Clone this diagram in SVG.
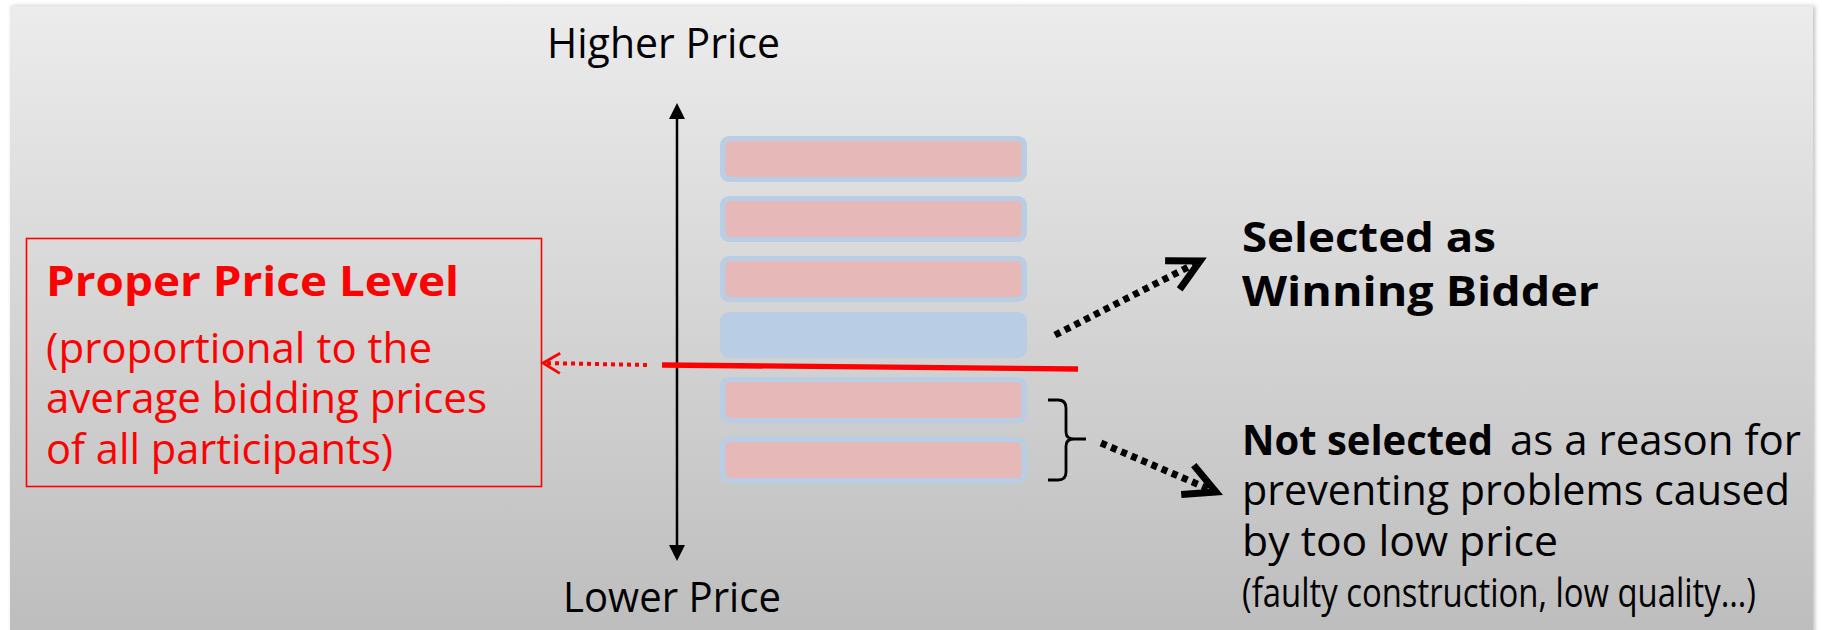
<svg xmlns="http://www.w3.org/2000/svg" width="1822" height="630" viewBox="0 0 1822 630">
  <defs>
    <linearGradient id="panelGrad" x1="0" y1="0" x2="0" y2="1">
      <stop offset="0" stop-color="#ececec"/>
      <stop offset="1" stop-color="#bdbdbd"/>
    </linearGradient>
    <filter id="shadow" x="-5%" y="-5%" width="110%" height="110%">
      <feDropShadow dx="2" dy="0" stdDeviation="2" flood-color="#000" flood-opacity="0.25"/>
    </filter>
    <marker id="chevBlack" markerUnits="userSpaceOnUse" markerWidth="60" markerHeight="60" refX="0" refY="0" viewBox="-45 -30 55 60" orient="auto">
      <path d="M -31 -16 L 0 0 L -31 16" fill="none" stroke="#000" stroke-width="7" stroke-dasharray="none" stroke-linecap="butt" stroke-linejoin="miter"/>
    </marker>
    <marker id="chevRed" markerUnits="userSpaceOnUse" markerWidth="40" markerHeight="40" refX="0" refY="0" viewBox="-25 -20 30 40" orient="auto">
      <path d="M -17 -10 L 0 0 L -17 10" fill="none" stroke="#ff0000" stroke-width="2.8" stroke-dasharray="none"/>
    </marker>
    <style>
      .t { font-family: "Open Sans", "Noto Sans", "Liberation Sans", sans-serif; font-size: 42px; }
      .b { font-weight: bold; }
      .red { fill: #ff0000; }
      .blk { fill: #000; }
      .barOuter { fill: #b9cde5; }
      .barInner { fill: #e6b8b7; }
      .dotArrow { fill: none; stroke: #000; stroke-width: 7; stroke-dasharray: 6 5; }
    </style>
  </defs>

  <rect x="0" y="0" width="1822" height="630" fill="#ffffff"/>
  <rect id="panel" x="10" y="6" width="1803" height="630" fill="url(#panelGrad)" filter="url(#shadow)"/>

  <g id="axis">
    <line x1="677" y1="545" x2="677" y2="118" stroke="#000" stroke-width="2.5"/>
    <path d="M 677 103 L 669 119 L 685 119 Z" fill="#000"/>
    <path d="M 677 561 L 669 545 L 685 545 Z" fill="#000"/>
  </g>

  <g id="label-higher">
    <text class="t blk" x="547" y="58" textLength="233" lengthAdjust="spacingAndGlyphs">Higher Price</text>
  </g>
  <g id="label-lower">
    <text class="t blk" x="563" y="612" textLength="218" lengthAdjust="spacingAndGlyphs">Lower Price</text>
  </g>

  <g id="bid-1">
    <rect class="barOuter" x="720" y="136" width="307" height="46" rx="9"/>
    <rect class="barInner" x="725.5" y="141" width="296" height="36" rx="5"/>
  </g>
  <g id="bid-2">
    <rect class="barOuter" x="720" y="196" width="307" height="46" rx="9"/>
    <rect class="barInner" x="725.5" y="201" width="296" height="36" rx="5"/>
  </g>
  <g id="bid-3">
    <rect class="barOuter" x="720" y="256" width="307" height="46" rx="9"/>
    <rect class="barInner" x="725.5" y="261" width="296" height="36" rx="5"/>
  </g>
  <g id="bid-winner">
    <rect class="barOuter" x="720" y="312" width="307" height="46" rx="9"/>
  </g>
  <g id="bid-5">
    <rect class="barOuter" x="720" y="377" width="307" height="46" rx="9"/>
    <rect class="barInner" x="725.5" y="382" width="296" height="36" rx="5"/>
  </g>
  <g id="bid-6">
    <rect class="barOuter" x="720" y="437" width="307" height="46" rx="9"/>
    <rect class="barInner" x="725.5" y="442" width="296" height="36" rx="5"/>
  </g>

  <g id="proper-price-box">
    <rect x="26.5" y="238.5" width="515" height="248" fill="none" stroke="#ff0000" stroke-width="1.6"/>
    <text class="t b red" x="46" y="296" textLength="413" lengthAdjust="spacingAndGlyphs">Proper Price Level</text>
    <text class="t red" x="46" y="363" textLength="386" lengthAdjust="spacingAndGlyphs">(proportional to the</text>
    <text class="t red" x="46" y="413" textLength="441" lengthAdjust="spacingAndGlyphs">average bidding prices</text>
    <text class="t red" x="46" y="464" textLength="347" lengthAdjust="spacingAndGlyphs">of all participants)</text>
  </g>

  <g id="selected-label">
    <text class="t b blk" x="1242" y="252" textLength="254" lengthAdjust="spacingAndGlyphs">Selected as</text>
    <text class="t b blk" x="1242" y="306" textLength="357" lengthAdjust="spacingAndGlyphs">Winning Bidder</text>
  </g>

  <g id="not-selected-label">
    <text class="t blk" y="455"><tspan class="b" x="1242" textLength="251" lengthAdjust="spacingAndGlyphs">Not selected</tspan><tspan x="1510" textLength="291" lengthAdjust="spacingAndGlyphs">as a reason for</tspan></text>
    <text class="t blk" x="1242" y="505" textLength="548" lengthAdjust="spacingAndGlyphs">preventing problems caused</text>
    <text class="t blk" x="1242" y="556" textLength="316" lengthAdjust="spacingAndGlyphs">by too low price</text>
    <text class="t blk" x="1242" y="607" style="font-size:41px" textLength="514" lengthAdjust="spacingAndGlyphs">(faulty construction, low quality…)</text>
  </g>

  <g id="connectors">
    <line id="price-level-line" x1="662" y1="365" x2="1078" y2="369" stroke="#ff0000" stroke-width="5.3"/>
    <line id="to-proper-box" x1="647" y1="365" x2="543" y2="363" stroke="#ff0000" stroke-width="4" stroke-dasharray="4 4" marker-end="url(#chevRed)"/>
    <path id="brace" d="M 1048 400 L 1058 400 Q 1066 400 1066 408 L 1066 432 Q 1066 439 1074 439 L 1086 439 M 1074 439 Q 1066 439 1066 446 L 1066 472 Q 1066 480 1058 480 L 1048 480" fill="none" stroke="#000" stroke-width="2.8"/>
    <line id="to-selected" class="dotArrow" x1="1055" y1="335" x2="1200" y2="261" marker-end="url(#chevBlack)"/>
    <line id="to-not-selected" class="dotArrow" x1="1101" y1="443" x2="1216" y2="492" marker-end="url(#chevBlack)"/>
  </g>
</svg>
